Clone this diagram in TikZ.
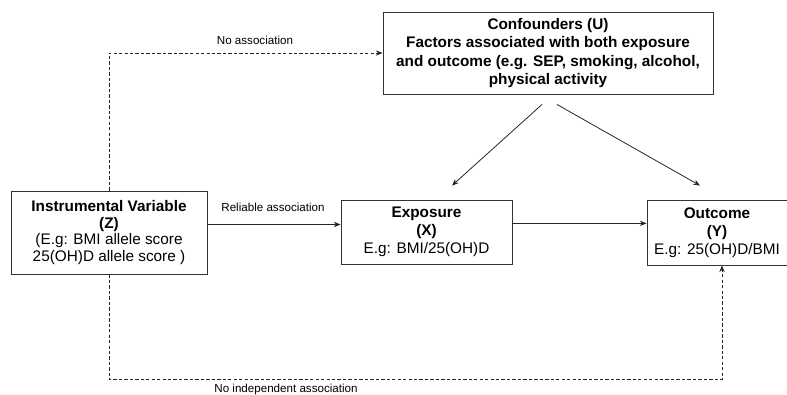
\documentclass[tikz,border=0pt]{standalone}
\usepackage{fontspec}
\setmainfont{Liberation Sans}
\usetikzlibrary{arrows.meta}
\tikzset{
    varbox/.style={draw=black!80, line width=0.7pt, align=center, inner sep=2pt,
        font=\fontsize{11.5}{12.5}\selectfont},
    linklabel/.style={font=\fontsize{8.7}{10}\selectfont, inner sep=0pt},
    causal/.style={draw=black!85, line width=0.6pt, -{Stealth[length=5pt,width=4pt]}},
    noassoc/.style={causal, dash pattern=on 2.5pt off 1.6pt}
}
\begin{document}
\begin{tikzpicture}[x=0.75pt, y=-0.75pt]
    \useasboundingbox (0,0) rectangle (787,394);
    % boxes
    \node[varbox, minimum width=147pt, minimum height=62.25pt] (Z) at (109,232.5)
        {\textbf{Instrumental Variable}\\\textbf{(Z)}\\(E.g: BMI allele score\\25(OH)D allele score )};
    \node[varbox, minimum width=247.5pt, minimum height=61.5pt, font=\bfseries\fontsize{11.5}{13.9}\selectfont] (U) at (548,53)
        {Confounders (U)\\Factors associated with both exposure\\and outcome (e.g. SEP, smoking, alcohol,\\physical activity};
    \node[varbox, minimum width=128.25pt, minimum height=48pt, font=\fontsize{11.5}{13.4}\selectfont] (X) at (426.5,232)
        {\textbf{Exposure}\\\textbf{(X)}\\E.g: BMI/25(OH)D};
    \node[varbox, minimum width=105pt, minimum height=48.75pt, font=\fontsize{11.5}{13.4}\selectfont] (Y) at (717,232.5)
        {\textbf{Outcome}\\\textbf{(Y)}\\E.g: 25(OH)D/BMI};
    % arrows
    \draw[causal] ([yshift=6pt]Z.east) -- ([yshift=6pt]Z.east -| X.west);
    \draw[causal] ([yshift=6.5pt]X.east) -- ([yshift=6.5pt]X.east -| Y.west);
    \draw[causal] ([shift={(-6,10)}]U.south) -- ([shift={(25.5,-14)}]X.north);
    \draw[causal] ([shift={(9,10)}]U.south) -- ([shift={(-17,-14)}]Y.north);
    \draw[noassoc] (Z.north) |- (U.west);
    \draw[noassoc] (Z.south) -- ++(0,105) -| ([xshift=3.75pt]Y.south);
    % labels
    \node[linklabel] (lblRel) at (273,207) {Reliable association};
    \node[linklabel] (lblNo) at (255,40) {No association};
    \node[linklabel] (lblInd) at (286,389) {No independent association};
\end{tikzpicture}
\end{document}
